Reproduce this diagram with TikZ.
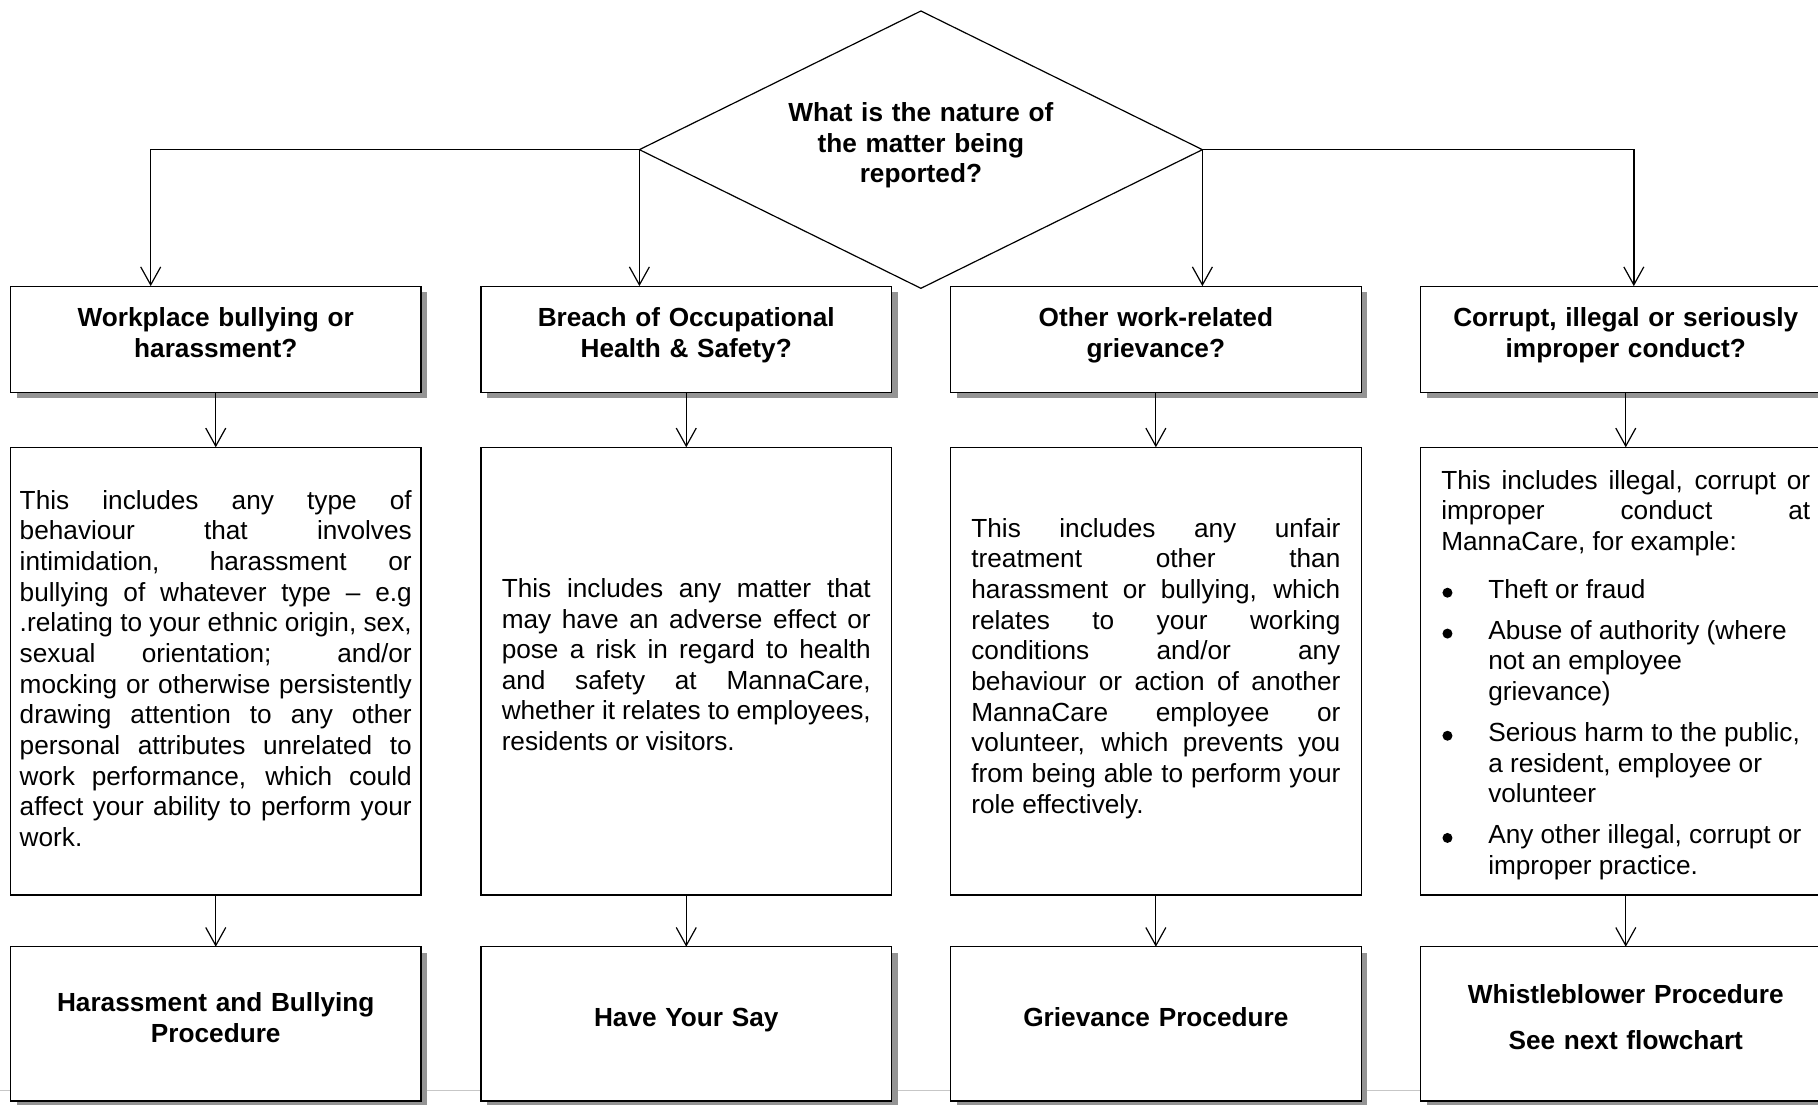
\documentclass[tikz,border=0pt]{standalone}
\usepackage{fontspec}
\setmainfont{Liberation Sans}
\usetikzlibrary{shapes.geometric,arrows.meta,shadows}
\newcommand\rfont{\fontsize{13.1pt}{15.33pt}\selectfont}
\newcommand\bfont{\fontsize{13.1pt}{15.33pt}\selectfont\bfseries}
\newcommand\topstrut[1]{\rule{0pt}{#1}}
\newcommand\botstrut[1]{\rule[-#1]{0pt}{#1}}
\newcommand\bulletdot{\tikz[baseline=0pt]\fill[black] (0pt,2.8pt) circle (2.5pt);}
\newcommand\bitem[1]{{\leftskip=0pt\rightskip=0pt plus 1fil\parfillskip=0pt plus 1fil\hangindent=23.5pt\hangafter=1\noindent\makebox[23.5pt][l]{\hspace{0.6pt}\bulletdot}#1\par}}
\tolerance=10000
\hbadness=10000
\begin{document}
\begin{tikzpicture}[x=0.5pt,y=-0.5pt,
  every node/.style={inner sep=0pt, outer sep=0pt},
  basebox/.style={draw=black, line width=0.6pt, fill=white, minimum width=205.25pt},
  shadowed/.style={drop shadow={shadow xshift=3pt, shadow yshift=-3pt, fill=black!42, opacity=1}},
  headbox/.style={basebox, shadowed, minimum height=53pt, font=\bfont, align=center, text width=200pt},
  textbox/.style={basebox, minimum height=223.85pt, font=\rfont, align=justify},
  procbox/.style={basebox, shadowed, minimum height=77.15pt, font=\bfont, align=center, text width=200pt},
  decision/.style={diamond, draw=black, line width=0.6pt, fill=white, shape aspect=2.03, minimum width=281.5pt, minimum height=138.65pt, font=\bfont, align=center, text width=140pt},
  conn/.style={line width=0.6pt, -{Straight Barb[length=9pt,width=10pt]}},
  elbow/.style={line width=0.75pt, -{Straight Barb[length=9pt,width=10pt,line width=0.6pt]}},
  pageline/.style={draw=black!22, line width=0.5pt}
]
\useasboundingbox (0,0) rectangle (1818,1104);
\clip (0,0) rectangle (1818,1104);
\fill[white] (0,0) rectangle (1818,1104);

% faint page boundary line
\draw[pageline] (0,1090) -- (1818,1090);

% decision
\node[decision] (q) at (920.9,149.65) {\strut What is the nature of\\the matter being\\reported?\botstrut{8.1pt}};

% header boxes
\node[headbox] (h1) at (215.75,339.1) {\strut Workplace bullying or\\harassment?\botstrut{8.1pt}};
\node[headbox] (h2) at (686.25,339.1) {\strut Breach of Occupational\\Health \& Safety?\botstrut{8.1pt}};
\node[headbox] (h3) at (1155.85,339.1) {\strut Other work-related\\grievance?\botstrut{8.1pt}};
\node[headbox] (h4) at (1625.75,339.1) {\strut Corrupt, illegal or seriously\\improper conduct?\botstrut{8.1pt}};

% description boxes
\node[textbox, text width=196pt] (t1) at (215.75,671.15) {\topstrut{11.4pt}This includes any type of\linebreak
behaviour that involves\linebreak
intimidation, harassment or\linebreak
bullying of whatever type -- e.g\linebreak
.relating to your ethnic origin, sex,\linebreak
sexual orientation; and/or\linebreak
mocking or otherwise persistently\linebreak
drawing attention to any other\linebreak
personal attributes unrelated to\linebreak
work performance, which could\linebreak
affect your ability to perform your\linebreak
work.\strut};

\node[textbox, text width=184.5pt] (t2) at (686.25,671.15) {\strut This includes any matter that\linebreak
may have an adverse effect or\linebreak
pose a risk in regard to health\linebreak
and safety at MannaCare,\linebreak
whether it relates to employees,\linebreak
residents or visitors.\botstrut{7.9pt}};

\node[textbox, text width=184.5pt] (t3) at (1155.85,671.15) {\strut This includes any unfair\linebreak
treatment other than\linebreak
harassment or bullying, which\linebreak
relates to your working\linebreak
conditions and/or any\linebreak
behaviour or action of another\linebreak
MannaCare employee or\linebreak
volunteer, which prevents you\linebreak
from being able to perform your\linebreak
role effectively.\botstrut{6.7pt}};

\node[textbox, text width=184.5pt] (t4) at (1625.75,671.15) {\topstrut{15.2pt}This includes illegal, corrupt or\linebreak
improper conduct at\linebreak
MannaCare, for example:\par\vspace{8.5pt}%
\bitem{Theft or fraud}\vspace{5.1pt}%
\bitem{Abuse of authority (where\newline not an employee\newline grievance)}\vspace{5.1pt}%
\bitem{Serious harm to the public,\newline a resident, employee or\newline volunteer}\vspace{5.1pt}%
\bitem{Any other illegal, corrupt or\newline improper practice.\strut}};

% procedure boxes
\node[procbox] (p1) at (215.75,1023.85) {\strut Harassment and Bullying\\Procedure\botstrut{7.75pt}};
\node[procbox] (p2) at (686.25,1023.85) {\strut Have Your Say\botstrut{8.2pt}};
\node[procbox] (p3) at (1155.85,1023.85) {\strut Grievance Procedure\botstrut{8.2pt}};
\node[procbox] (p4) at (1625.75,1023.85) {\strut Whistleblower Procedure\\[7.9pt]See next flowchart\botstrut{8pt}};

% connectors from the decision
\coordinate (c1) at (150.7,0);
\coordinate (c4) at (1633.8,0);
\draw[elbow] (q.west) -| (c1 |- h1.north);
\draw[conn] (q.west) -- (q.west |- h2.north);
\draw[conn] (q.east) -- (q.east |- h3.north);
\draw[elbow] (q.east) -| (c4 |- h4.north);

% column connectors
\foreach \i in {1,2,3,4}{
  \draw[conn] (h\i.south) -- (t\i.north);
  \draw[conn] (t\i.south) -- (p\i.north);
}
\end{tikzpicture}
\end{document}
